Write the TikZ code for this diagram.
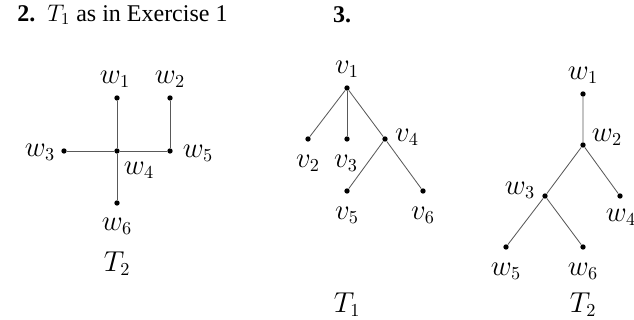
\documentclass[tikz,border=0pt]{standalone}
\usepackage{fontspec}
\setmainfont{Liberation Serif}
\usepackage{tikz}

\begin{document}
\begin{tikzpicture}[x=0.6pt, y=-0.6pt,
  dot/.style={circle, fill=black, inner sep=0pt, minimum size=3.2pt},
  lbl/.style={font=\fontsize{16}{18}\selectfont, inner sep=1pt},
  ttl/.style={font=\fontsize{14.4}{16}\selectfont, inner sep=0pt},
  edge/.style={black!65, line width=0.5pt}]
\useasboundingbox (0,0) rectangle (634,320);
% headings
\node[ttl, anchor=west] (h2) at (17,15) {\textbf{2.}\ \ $T_1$ as in Exercise 1};
\node[ttl] (h3) at (342,15) {\textbf{3.}};
% exercise 2, tree T2
\node[dot] (a1) at (117,98) {};
\node[dot] (a2) at (170,98) {};
\node[dot] (a3) at (64,151) {};
\node[dot] (a4) at (117,151) {};
\node[dot] (a5) at (170,151) {};
\node[dot] (a6) at (117,203) {};
\draw[edge] (a1) -- (a4) -- (a6);
\draw[edge] (a3) -- (a4) -- (a5) -- (a2);
\node[lbl] (la1) at (115,79) {$w_1$};
\node[lbl] (la2) at (170,79) {$w_2$};
\node[lbl] (la3) at (40,152) {$w_3$};
\node[lbl] (la4) at (139,170) {$w_4$};
\node[lbl] (la5) at (198,153) {$w_5$};
\node[lbl] (la6) at (117,226) {$w_6$};
\node[lbl] (ta) at (117,264) {$T_2$};
% exercise 3, tree T1
\node[dot] (b1) at (347,88) {};
\node[dot] (b2) at (308,139) {};
\node[dot] (b3) at (347,139) {};
\node[dot] (b4) at (385,139) {};
\node[dot] (b5) at (347,191) {};
\node[dot] (b6) at (423,191) {};
\draw[edge] (b1) -- (b2);
\draw[edge] (b1) -- (b3);
\draw[edge] (b1) -- (b4) -- (b6);
\draw[edge] (b4) -- (b5);
\node[lbl] (lb1) at (347,69) {$v_1$};
\node[lbl] (lb2) at (308,163) {$v_2$};
\node[lbl] (lb3) at (346,163) {$v_3$};
\node[lbl] (lb4) at (407,137) {$v_4$};
\node[lbl] (lb5) at (347,215) {$v_5$};
\node[lbl] (lb6) at (423,215) {$v_6$};
\node[lbl] (tb) at (347,305) {$T_1$};
% exercise 3, tree T2
\node[dot] (c1) at (583,94) {};
\node[dot] (c2) at (583,145) {};
\node[dot] (c3) at (545,196) {};
\node[dot] (c4) at (620,196) {};
\node[dot] (c5) at (506,247) {};
\node[dot] (c6) at (583,247) {};
\draw[edge] (c1) -- (c2) -- (c3) -- (c5);
\draw[edge] (c2) -- (c4);
\draw[edge] (c3) -- (c6);
\node[lbl] (lc1) at (583,75) {$w_1$};
\node[lbl] (lc2) at (607,137) {$w_2$};
\node[lbl] (lc3) at (520,190) {$w_3$};
\node[lbl] (lc4) at (621,217) {$w_4$};
\node[lbl] (lc5) at (506,271) {$w_5$};
\node[lbl] (lc6) at (583,271) {$w_6$};
\node[lbl] (tc) at (583,305) {$T_2$};
\end{tikzpicture}
\end{document}
